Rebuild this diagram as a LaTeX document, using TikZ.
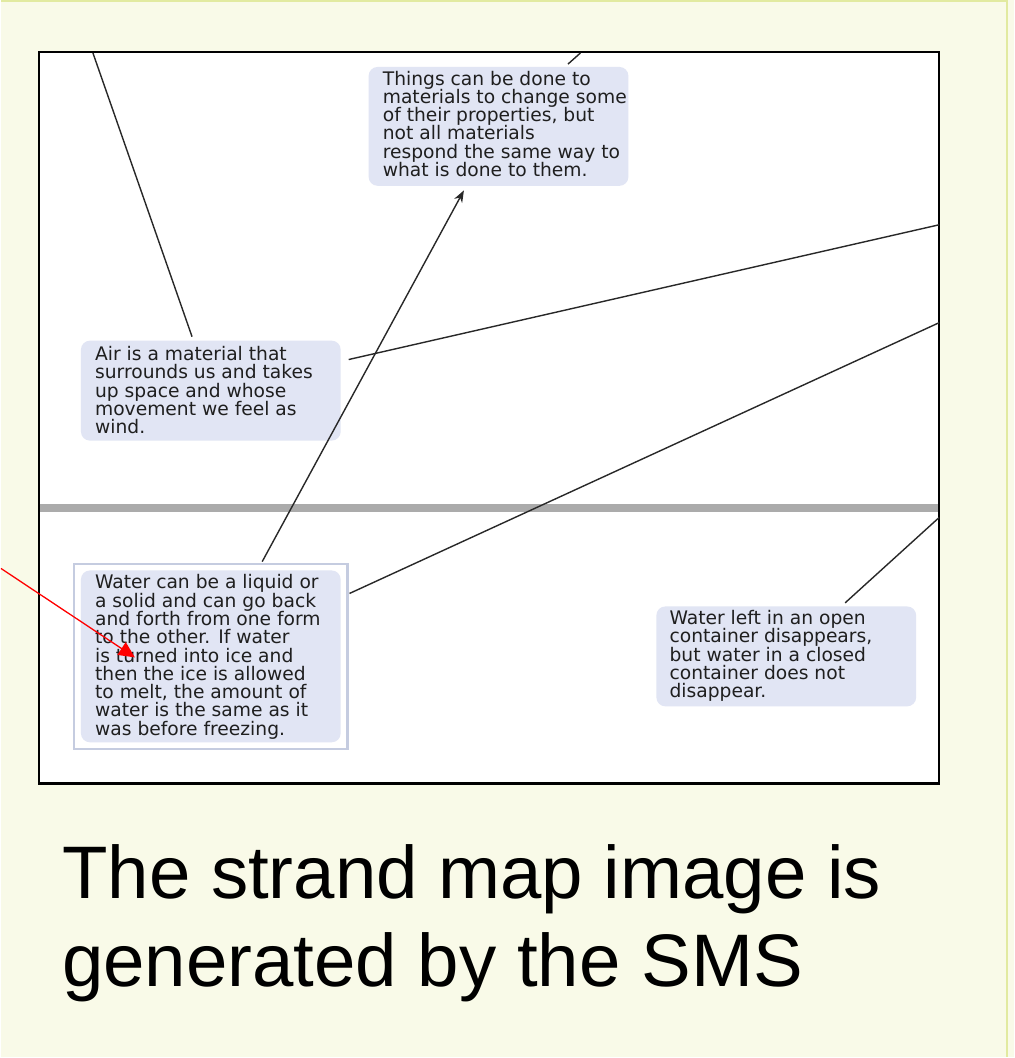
\documentclass[tikz,border=0pt]{standalone}
\usepackage{xcolor}
\usepackage{fontspec}
\usepackage{tikz}
\usetikzlibrary{arrows.meta,positioning,calc,fit}
\newfontfamily\mapfont{DejaVu Sans}
\newfontfamily\slidefont{Liberation Sans}
\definecolor{slidebg}{RGB}{249,250,232}
\definecolor{slideedge}{RGB}{226,234,160}
\definecolor{boxfill}{RGB}{225,229,244}
\definecolor{selframe}{RGB}{197,204,224}
\definecolor{linkgray}{RGB}{40,40,40}
\definecolor{bargray}{RGB}{171,171,171}

\begin{document}
\begin{tikzpicture}[x=1pt, y=-1pt, >={Stealth[length=12pt,width=9pt]}]
        \tikzset{
            bench/.style={fill=boxfill, rectangle, rounded corners=9pt, minimum width=260pt, inner sep=0pt},
            benchtext/.style={anchor=north west, inner sep=0pt, align=left, text=black!88, font={\mapfont\fontsize{18.7}{18.3}\selectfont\lineskiplimit=-10pt}},
            selbox/.style={draw=selframe, line width=2.5pt, rectangle, inner xsep=6.5pt, inner ysep=6.5pt},
            link/.style={draw=linkgray, line width=1.4pt},
            pointer/.style={draw=red, line width=1.3pt, -{Triangle[length=16pt,width=15pt]}},
            caption/.style={anchor=north west, inner sep=0pt, align=left, font={\slidefont\fontsize{74.5}{88}\selectfont}}
        }

        % Slide and map frame
        \fill [slidebg] (0,0) rectangle (1014,1058);
        \draw [slideedge, line width=2pt] (0,1) -- (1007,1) -- (1007,1058);
        \draw [fill=white, line width=2.5pt] (38,52) rectangle (939,784);
        \coordinate (barl) at (39,508.5);
        \coordinate (barr) at (938,508.5);
        \draw [bargray, line width=8pt] (barl) -- (barr);

        % Nodes
        \node [bench, minimum height=119pt] (things) at (498,126.5) {};
        \node [bench, minimum height=100pt] (air) at (210,391) {};
        \node [bench, minimum height=172pt] (water) at (210,657) {};
        \node [selbox, fit=(water)] (watersel) {};
        \node [bench, minimum height=100pt] (leftout) at (786,657) {};

        \node [benchtext] (thingstxt) at (382,70.8) {Things can be done to\\materials to change some\\of their properties, but\\not all materials\\respond the same way to\\what is done to them.};
        \node [benchtext] (airtxt) at (94,346.5) {Air is a material that\\surrounds us and takes\\up space and whose\\movement we feel as\\wind.};
        \node [benchtext] (watertxt) at (94,575.1) {Water can be a liquid or\\a solid and can go back\\and forth from one form\\to the other. If water\\is turned into ice and\\then the ice is allowed\\to melt, the amount of\\water is the same as it\\was before freezing.};
        \node [benchtext] (leftouttxt) at (669,610.8) {Water left in an open\\container disappears,\\but water in a closed\\container does not\\disappear.};

        % Connections
        \coordinate (topa) at (92,53);
        \coordinate (topb) at (580,53);
        \coordinate (righta) at (939,225);
        \coordinate (rightb) at (939,323);
        \coordinate (rightc) at (939,518);
        \draw [link, shorten >=4pt] (topa) -- (air);
        \draw [link, shorten <=4pt] (things) -- (topb);
        \draw [link, ->, shorten <=1pt, shorten >=5pt] (watersel) -- (things);
        \draw [link, shorten <=8pt] (air) -- (righta);
        \draw [link, shorten <=1pt] (watersel) -- (rightb);
        \draw [link, shorten <=5pt] (leftout) -- (rightc);

        % Caption
        \node [caption] (capt) at (61,845) {The strand map image is\\generated by the SMS};

        % Red pointer
        \coordinate (redin) at (0,569);
        \coordinate (redtip) at (134,658);
        \draw [pointer] (redin) -- (redtip);
\end{tikzpicture}
\end{document}
